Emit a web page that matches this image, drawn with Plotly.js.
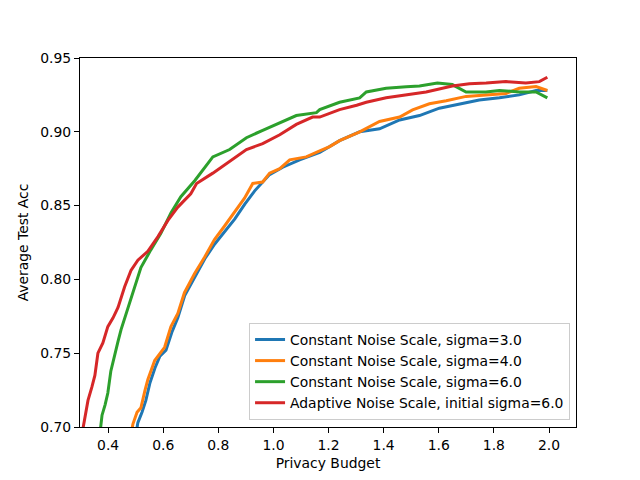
<!DOCTYPE html>
<html>
<head>
<meta charset="utf-8">
<script src="https://cdn.plot.ly/plotly-3.0.1.min.js"></script>
<style>html,body{margin:0;padding:0;background:#fff;}#chart{width:640px;height:480px;}</style>
</head>
<body>
<div id="chart"></div>
<script>
var seriesNames = [
  "Constant Noise Scale, sigma=3.0",
  "Constant Noise Scale, sigma=4.0",
  "Constant Noise Scale, sigma=6.0",
  "Adaptive Noise Scale, initial sigma=6.0"
];
var seriesColors = ["#1f77b4", "#ff7f0e", "#2ca02c", "#d62728"];

var blueX = [0.501,0.508,0.523,0.537,0.552,0.570,0.588,0.610,0.631,0.653,0.678,0.715,0.751,0.787,0.823,0.860,0.896,0.932,0.961,0.986,1.034,1.095,1.168,1.240,1.313,1.385,1.458,1.530,1.602,1.675,1.747,1.820,1.892,1.953,1.994];
var blueY = [0.695,0.703,0.710,0.718,0.730,0.740,0.748,0.752,0.764,0.774,0.789,0.802,0.814,0.824,0.832,0.841,0.851,0.860,0.866,0.871,0.876,0.881,0.886,0.894,0.900,0.902,0.908,0.911,0.916,0.919,0.9215,0.923,0.925,0.928,0.928];

var orangeX = [0.483,0.490,0.505,0.519,0.534,0.544,0.569,0.588,0.605,0.628,0.653,0.677,0.714,0.750,0.786,0.822,0.858,0.895,0.925,0.961,0.986,1.023,1.059,1.119,1.168,1.204,1.240,1.313,1.385,1.458,1.505,1.566,1.627,1.699,1.771,1.844,1.892,1.953,1.994];
var orangeY = [0.695,0.702,0.710,0.713,0.725,0.732,0.745,0.750,0.754,0.768,0.777,0.791,0.804,0.815,0.827,0.836,0.845,0.855,0.865,0.866,0.872,0.875,0.881,0.883,0.887,0.890,0.894,0.900,0.907,0.910,0.9148,0.919,0.921,0.924,0.925,0.926,0.9295,0.9306,0.928];

var greenX = [0.370,0.378,0.389,0.399,0.410,0.424,0.436,0.447,0.472,0.496,0.519,0.555,0.591,0.628,0.664,0.715,0.780,0.841,0.902,0.961,1.023,1.083,1.156,1.168,1.240,1.313,1.337,1.409,1.482,1.530,1.595,1.649,1.699,1.771,1.820,1.892,1.953,1.994];
var greenY = [0.695,0.708,0.715,0.723,0.738,0.750,0.758,0.766,0.781,0.795,0.808,0.820,0.831,0.845,0.856,0.867,0.883,0.888,0.896,0.901,0.906,0.911,0.913,0.915,0.920,0.923,0.927,0.9295,0.9306,0.931,0.933,0.932,0.927,0.927,0.928,0.927,0.927,0.923];

var redX = [0.305,0.316,0.327,0.341,0.352,0.363,0.381,0.399,0.418,0.436,0.460,0.483,0.508,0.544,0.581,0.617,0.653,0.700,0.721,0.780,0.841,0.902,0.961,1.023,1.083,1.142,1.168,1.240,1.302,1.337,1.409,1.482,1.554,1.649,1.711,1.772,1.844,1.916,1.965,1.994];
var redY = [0.695,0.707,0.718,0.727,0.735,0.750,0.757,0.768,0.774,0.781,0.795,0.806,0.813,0.819,0.829,0.840,0.849,0.858,0.865,0.872,0.880,0.888,0.892,0.898,0.905,0.910,0.910,0.915,0.918,0.920,0.923,0.925,0.927,0.931,0.9325,0.933,0.934,0.933,0.934,0.937];

var xTicks = [0.4,0.6,0.8,1.0,1.2,1.4,1.6,1.8,2.0];
var yTicks = [0.70,0.75,0.80,0.85,0.90,0.95];

var xs = [blueX, orangeX, greenX, redX];
var ys = [blueY, orangeY, greenY, redY];
var traces = [];
for (var i = 0; i < 4; i++) {
  traces.push({
    x: xs[i], y: ys[i], type: "scatter", mode: "lines",
    name: seriesNames[i],
    line: {color: seriesColors[i], width: 3}
  });
}

var font = {family: "DejaVu Sans, sans-serif", size: 13.9, color: "#000"};
var axisCommon = {
  showline: true, linecolor: "#000", linewidth: 1, mirror: true,
  ticks: "outside", ticklen: 5, tickwidth: 1, tickcolor: "#000",
  showgrid: false, zeroline: false, tickfont: font
};
var layout = {
  width: 640, height: 480,
  margin: {l: 80, r: 64, t: 58, b: 53},
  paper_bgcolor: "#fff", plot_bgcolor: "#fff",
  font: font,
  showlegend: true,
  legend: {
    x: 0.988, y: 0.019, xanchor: "right", yanchor: "bottom",
    bgcolor: "rgba(255,255,255,0.8)", bordercolor: "#cccccc", borderwidth: 1,
    font: font, tracegroupgap: 0, itemwidth: 30
  },
  xaxis: Object.assign({}, axisCommon, {
    range: [0.298, 2.098], tickvals: xTicks,
    ticktext: xTicks.map(function(v){return v.toFixed(1);}),
    title: {text: "Privacy Budget", font: font, standoff: 6}
  }),
  yaxis: Object.assign({}, axisCommon, {
    range: [0.70, 0.95], tickvals: yTicks,
    ticktext: yTicks.map(function(v){return v.toFixed(2);}),
    title: {text: "Average Test Acc", font: font, standoff: 8}
  })
};
Plotly.newPlot("chart", traces, layout, {displayModeBar: false, staticPlot: true});
</script>
</body>
</html>
